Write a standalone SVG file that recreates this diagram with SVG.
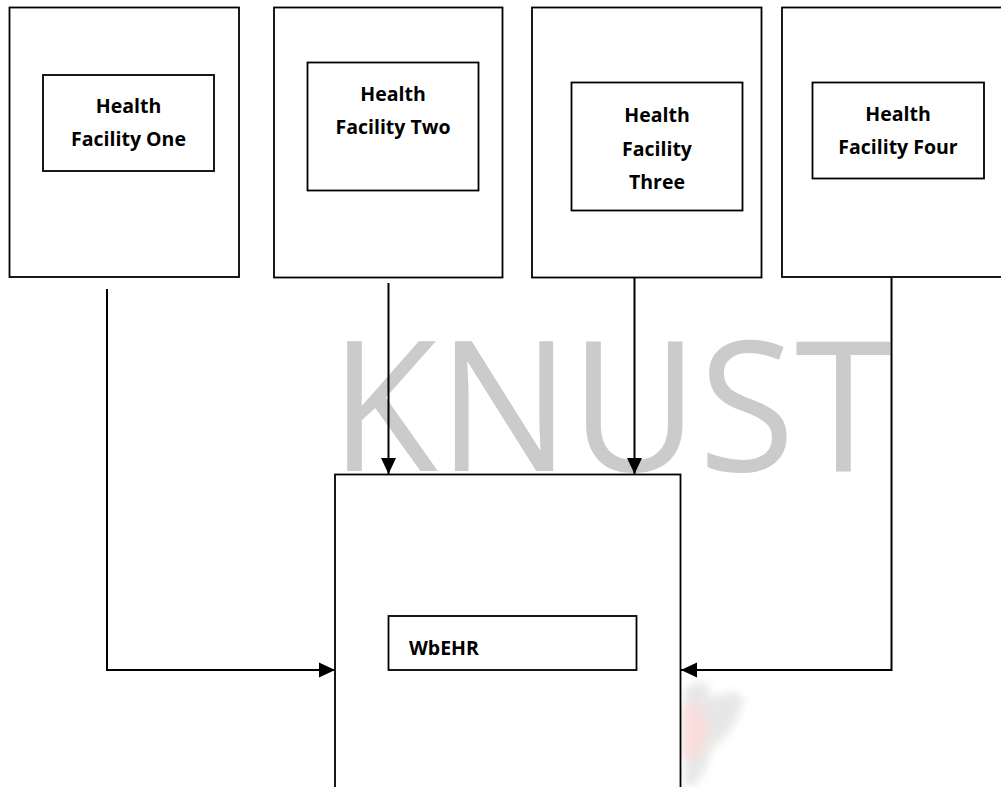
<svg xmlns="http://www.w3.org/2000/svg" width="1001" height="787" viewBox="0 0 1001 787">
  <style>
    .frame { fill: #ffffff; stroke: #000000; stroke-width: 1.8; }
    .inner { fill: #ffffff; stroke: #000000; stroke-width: 1.8; }
    .label { font-family: "Open Sans", "Liberation Sans", sans-serif; font-weight: bold; font-size: 19.5px; fill: #000000; text-anchor: middle; }
    .link { fill: none; stroke: #000000; stroke-width: 2; }
    .mark { font-family: "Open Sans", "Liberation Sans", sans-serif; font-size: 182px; fill: #cbcbcb; }
  </style>
  <defs>
    <marker id="arrow" markerUnits="userSpaceOnUse" markerWidth="16" markerHeight="16" viewBox="0 0 16 16" refX="16" refY="8" orient="auto">
      <path d="M0,0.5 L16,8 L0,15.5 Z" fill="#000000"/>
    </marker>
    <filter id="soft" x="-30%" y="-30%" width="160%" height="160%">
      <feGaussianBlur stdDeviation="4"/>
    </filter>
  </defs>

  <rect width="1001" height="787" fill="#ffffff"/>

  <!-- watermark -->
  <g id="watermark">
    <text class="mark" x="330" y="471" textLength="562" lengthAdjust="spacingAndGlyphs">KNUST</text>
    <g filter="url(#soft)" opacity="0.6">
      <path d="M684,690 C700,676 712,680 710,700 C722,690 740,690 744,700 C738,720 726,740 712,748 C706,770 700,787 684,787 Z" fill="#d8d8d8"/>
      <path d="M682,705 C694,698 706,704 704,722 C712,730 708,750 696,756 L682,760 Z" fill="#f6c6c6"/>
    </g>
  </g>

  <!-- facility nodes -->
  <g id="facility-one">
    <rect class="frame" x="9.5" y="7.5" width="229.5" height="269.5"/>
    <rect class="inner" x="43" y="75" width="171" height="96"/>
    <text class="label" x="128.5" y="113">Health</text>
    <text class="label" x="128.5" y="146">Facility One</text>
  </g>

  <g id="facility-two">
    <rect class="frame" x="274" y="7.5" width="228.5" height="270"/>
    <rect class="inner" x="307.5" y="62.5" width="171" height="128"/>
    <text class="label" x="393" y="100.5">Health</text>
    <text class="label" x="393" y="133.5">Facility Two</text>
  </g>

  <g id="facility-three">
    <rect class="frame" x="532" y="7.5" width="229.5" height="270"/>
    <rect class="inner" x="571.5" y="82.5" width="171" height="128"/>
    <text class="label" x="657" y="121.5">Health</text>
    <text class="label" x="657" y="155.5">Facility</text>
    <text class="label" x="657" y="189">Three</text>
  </g>

  <g id="facility-four">
    <rect class="frame" x="782" y="7.5" width="222" height="269.5"/>
    <rect class="inner" x="812.5" y="82.5" width="171.5" height="96"/>
    <text class="label" x="898" y="120.5">Health</text>
    <text class="label" x="898" y="154">Facility Four</text>
  </g>

  <!-- central record system -->
  <g id="wbehr">
    <rect class="frame" x="335" y="474.5" width="345.5" height="330"/>
    <rect class="inner" x="388.5" y="616" width="248" height="54"/>
    <text class="label" x="409" y="655" style="text-anchor: start;">WbEHR</text>
  </g>

  <!-- connectors -->
  <g id="connectors">
    <path class="link" d="M388.5,283 L388.5,474" marker-end="url(#arrow)"/>
    <path class="link" d="M634.5,278 L634.5,474" marker-end="url(#arrow)"/>
    <path class="link" d="M107,289 L107,670 L335,670" marker-end="url(#arrow)"/>
    <path class="link" d="M891.5,278 L891.5,670 L681,670" marker-end="url(#arrow)"/>
  </g>
</svg>
